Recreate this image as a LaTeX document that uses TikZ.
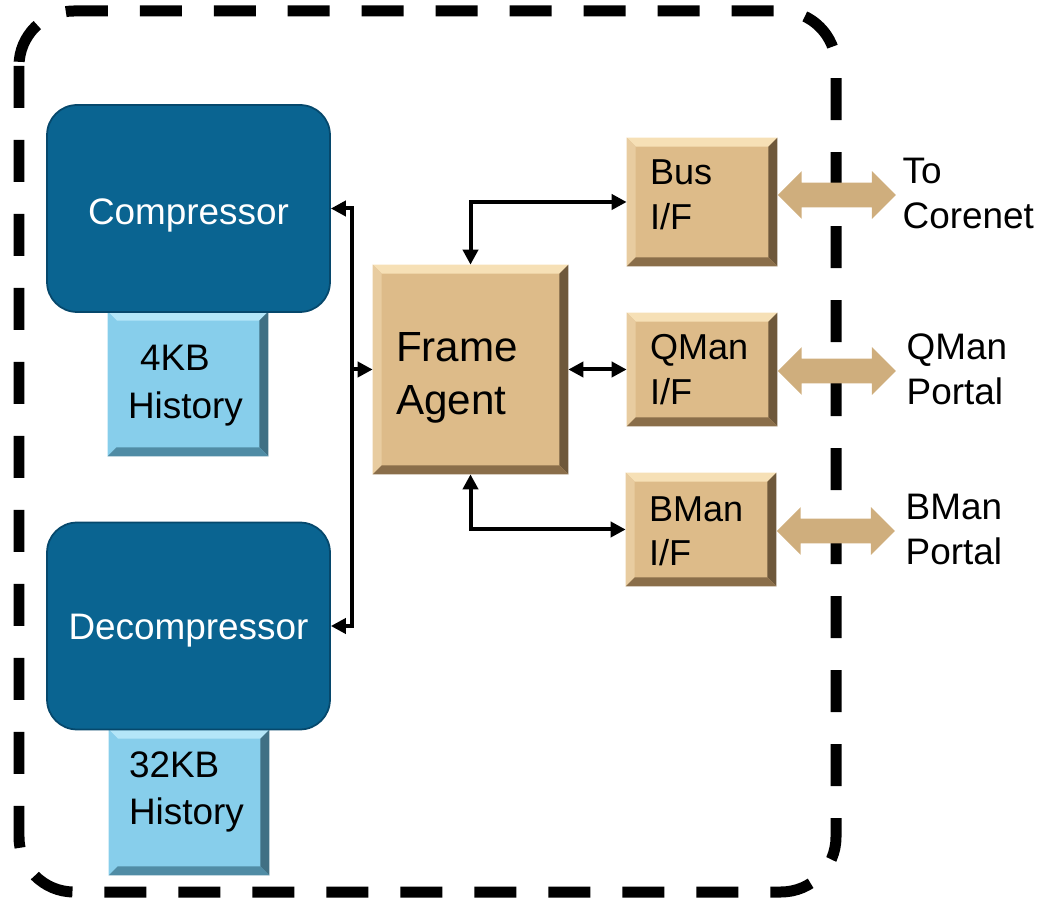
\documentclass[tikz,border=0pt]{standalone}
\usepackage{fontspec}
\setmainfont{Liberation Sans}
\usetikzlibrary{arrows.meta,shapes.arrows,positioning}

\definecolor{engineblue}{RGB}{10,100,145}
\definecolor{engineblueedge}{RGB}{6,72,108}
\definecolor{histblue}{RGB}{135,206,235}
\definecolor{histbluehi}{RGB}{180,230,248}
\definecolor{histbluelo}{RGB}{80,140,165}
\definecolor{agenttan}{RGB}{221,187,137}
\definecolor{agenttanhi}{RGB}{246,224,182}
\definecolor{agenttanside}{RGB}{232,204,160}
\definecolor{agenttanlo}{RGB}{138,110,74}
\definecolor{porttan}{RGB}{207,174,125}

\tikzset{
  engine/.style={fill=engineblue, draw=engineblueedge, line width=1pt, rounded corners=0.6cm,
    minimum width=5.66cm, minimum height=4.14cm, text=white, text depth=0pt,
    font=\fontsize{21}{25}\selectfont},
  history/.style={fill=histblue, minimum width=3.2cm, minimum height=2.88cm, inner sep=0pt,
    text width=2.4cm, align=left, text height=0.53cm, font=\fontsize{21}{27}\selectfont},
  agent/.style={fill=agenttan, minimum width=3.9cm, minimum height=4.18cm, inner sep=0pt,
    text width=2.98cm, align=left, text height=0.6cm, text depth=0.9cm,
    font=\fontsize{24}{30}\selectfont},
  ifbox/.style={fill=agenttan, minimum width=3.0cm, minimum height=2.26cm, inner sep=0pt,
    text width=2.08cm, align=left, text height=0.52cm, font=\fontsize{20.5}{25.6}\selectfont},
  portarrow/.style={double arrow, fill=porttan, inner xsep=0pt, inner ysep=0.24cm,
    minimum height=2.36cm, minimum width=0.94cm, double arrow head extend=0.23cm},
  portlabel/.style={inner sep=0pt, align=left, text height=1.55cm, text depth=0.2cm,
    font=\fontsize{21}{25.6}\selectfont},
  link/.style={line width=0.08cm, <->},
}

% bevel edges: node, top, side, bottom colours
\newcommand{\bevelbox}[4]{%
  \fill[#2] (#1.north west) -- (#1.north east) -- ([shift={(-9,9)}]#1.north east) -- ([shift={(9,9)}]#1.north west) -- cycle;
  \fill[#3] (#1.north west) -- ([shift={(9,9)}]#1.north west) -- ([shift={(9,-9)}]#1.south west) -- (#1.south west) -- cycle;
  \fill[#4!80!black] (#1.north east) -- ([shift={(-9,9)}]#1.north east) -- ([shift={(-9,-9)}]#1.south east) -- (#1.south east) -- cycle;
  \fill[#4] (#1.south west) -- (#1.south east) -- ([shift={(-9,-9)}]#1.south east) -- ([shift={(9,-9)}]#1.south west) -- cycle;
}

\begin{document}
\begin{tikzpicture}[x=0.02cm, y=-0.02cm, >={Triangle[length=0.3cm,width=0.3cm]}]
\useasboundingbox (0,0) rectangle (1048,901);

% dashed boundary
\draw[line width=0.22cm, dash pattern=on 0.84cm off 0.64cm, rounded corners=1.1cm] (19,11) rectangle (836,892);

% history buffers
\node[history, text depth=1.05cm] (hist4) at (188,384) {\hspace{0.24cm}4KB\\History};
\bevelbox{hist4}{histbluehi}{histblue}{histbluelo}
\node[history, minimum height=2.9cm, text depth=1.55cm] (hist32) at (189,802.5) {32KB\\History};
\bevelbox{hist32}{histbluehi}{histblue}{histbluelo}

% engines
\node[engine, text height=0.66cm] (comp) at (188.5,208.5) {Compressor};
\node[engine, text height=0.56cm] (decomp) at (188.5,626) {Decompressor};

% frame agent and interfaces
\node[agent] (agent) at (470.5,369.5) {Frame\\Agent};
\bevelbox{agent}{agenttanhi}{agenttanside}{agenttanlo}
\node[ifbox, minimum height=2.56cm, text depth=1.2cm] (busif) at (702,202) {Bus\\I/F};
\bevelbox{busif}{agenttanhi}{agenttanside}{agenttanlo}
\node[ifbox, text depth=0.9cm] (qmanif) at (702,369.5) {QMan\\I/F};
\bevelbox{qmanif}{agenttanhi}{agenttanside}{agenttanlo}
\node[ifbox, text depth=0.86cm] (bmanif) at (701,529.5) {BMan\\I/F};
\bevelbox{bmanif}{agenttanhi}{agenttanside}{agenttanlo}

% internal links
\coordinate (bus) at (352,369.5);
\draw[link] (comp.east) -| (bus) |- (decomp.east);
\draw[link, <-] (agent.west) -- (bus);
\draw[link] (agent.north) |- (busif.west);
\draw[link] (agent.east) -- (qmanif.west);
\draw[link] (agent.south) |- (bmanif.west);

% external ports
\node[portarrow, anchor=west] (busport) at ([yshift=0.14cm]busif.east) {};
\node[portarrow, anchor=west] (qmanport) at ([yshift=-0.03cm]qmanif.east) {};
\node[portarrow, anchor=west] (bmanport) at ([yshift=-0.03cm]bmanif.east) {};
\node[portlabel, right=0.12cm of busport] (corenet) {To\\Corenet};
\node[portlabel, right=0.2cm of qmanport] (qportal) {QMan\\Portal};
\node[portlabel, right=0.2cm of bmanport] (bportal) {BMan\\Portal};
\end{tikzpicture}
\end{document}
